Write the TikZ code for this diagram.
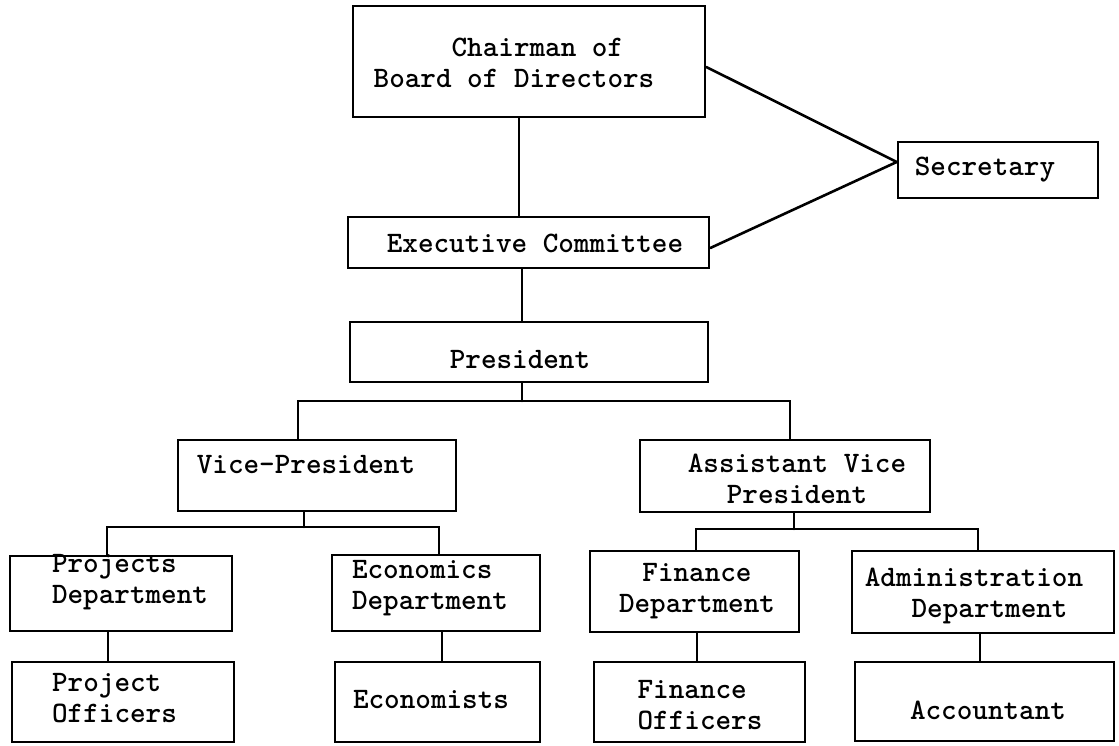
\documentclass[tikz,border=0pt]{standalone}
\usetikzlibrary{calc}
\tikzset{
  box/.style={draw=black, line width=2.6pt, rectangle, inner sep=0pt},
  wire/.style={draw=black, line width=2.6pt, line cap=round},
  txt/.style={inner sep=0pt, font=\fontsize{29.7}{31}\selectfont\ttfamily\bfseries},
  txtb/.style={inner sep=0pt, font=\fontsize{29.7}{31}\selectfont\ttfamily\bfseries},
}
\begin{document}
\begin{tikzpicture}[x=1pt,y=-1pt]
\useasboundingbox (0,0) rectangle (1119,745);
% boxes
\node[box, minimum width=352pt, minimum height=111pt] (chair) at (529,61.5) {};
\node[box, minimum width=200pt, minimum height=56pt] (sec) at (998,170) {};
\node[box, minimum width=361pt, minimum height=51pt] (exec) at (528.5,242.5) {};
\node[box, minimum width=358pt, minimum height=60pt] (pres) at (529,352) {};
\node[box, minimum width=278pt, minimum height=71pt] (vice) at (317,475.5) {};
\node[box, minimum width=290pt, minimum height=72pt] (asst) at (785,476) {};
\node[box, minimum width=222pt, minimum height=75pt] (projd) at (121,593.5) {};
\node[box, minimum width=208pt, minimum height=76pt] (econd) at (436,593) {};
\node[box, minimum width=209pt, minimum height=81pt] (find) at (694.5,591.5) {};
\node[box, minimum width=262pt, minimum height=82pt] (admd) at (983,592) {};
\node[box, minimum width=222pt, minimum height=80pt] (projo) at (123,702) {};
\node[box, minimum width=205pt, minimum height=80pt] (econo) at (437.5,702) {};
\node[box, minimum width=211pt, minimum height=80pt] (fino) at (699.5,702) {};
\node[box, minimum width=259pt, minimum height=79pt] (acc) at (984.5,701.5) {};
% texts
\node[txt, align=left] (chairT) at (514,62.5) {\hspace*{2.625em}Chairman of\\Board of Directors};
\node[txt] (secT) at (985,170) {Secretary};
\node[txtb] (execT) at (535,243) {Executive Committee};
\node[txtb] (presT) at (520,360) {President};
\node[txtb] (viceT) at (306,465) {Vice-President};
\node[txtb, align=center] (asstT) at (797,479) {Assistant Vice\\President};
\node[txtb, align=left] (projdT) at (130,582) {Projects\\Department};
\node[txtb, align=left] (econdT) at (430,588) {Economics\\Department};
\node[txtb, align=center] (findT) at (697,591) {Finance\\Department};
\node[txt, align=left] (admdT) at (974,596) {Administration\\\hspace*{1.575em}Department};
\node[txtb, align=left] (projoT) at (114.5,698) {Project\\Officers};
\node[txtb] (econoT) at (431,700) {Economists};
\node[txt, align=left] (finoT) at (700,705) {Finance\\Officers};
\node[txt] (accT) at (988,710) {Accountant};
% junctions
\coordinate (pj) at (522,401);
\coordinate (vj) at (304,527);
\coordinate (aj) at (794,529);
% connectors
\draw[wire] ($(chair.east)+(0,5.5)$) -- ($(sec.west)+(0,-8)$);
\draw[wire] ($(exec.east)+(0,5.5)$) -- ($(sec.west)+(0,-8)$);
\draw[wire] ($(chair.south)+(-10,0)$) -- ($(exec.north)+(-9.5,0)$);
\draw[wire] ($(exec.south)+(-6.5,0)$) -- ($(pres.north)+(-7,0)$);
\draw[wire] ($(pres.south)+(-7,0)$) -- (pj);
\draw[wire] ($(vice.north)+(-19,0)$) |- (pj) -| ($(asst.north)+(5,0)$);
\draw[wire] ($(vice.south)+(-13,0)$) -- (vj);
\draw[wire] ($(projd.north)+(-14,0)$) |- (vj) -| ($(econd.north)+(3,0)$);
\draw[wire] ($(asst.south)+(9,0)$) -- (aj);
\draw[wire] ($(find.north)+(1.5,0)$) |- (aj) -| ($(admd.north)+(-5,0)$);
\draw[wire] ($(projd.south)+(-13,0)$) -- ($(projo.north)+(-15,0)$);
\draw[wire] ($(econd.south)+(6,0)$) -- ($(econo.north)+(4.5,0)$);
\draw[wire] ($(find.south)+(2.5,0)$) -- ($(fino.north)+(-2.5,0)$);
\draw[wire] ($(admd.south)+(-3,0)$) -- ($(acc.north)+(-4.5,0)$);
\end{tikzpicture}
\end{document}
